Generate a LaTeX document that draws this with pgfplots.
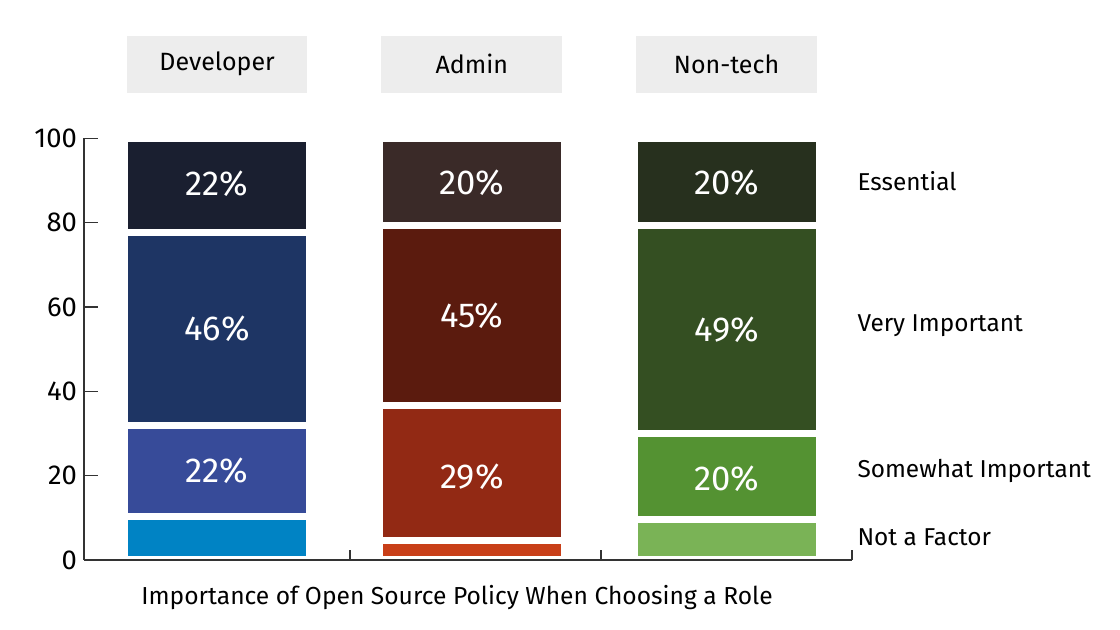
\documentclass[border=0pt]{standalone}
\usepackage{pgfplots}
\pgfplotsset{compat=1.18}
\usepackage{fontspec}
\setmainfont{Fira Sans}
\definecolor{axisgray}{HTML}{333333}
\definecolor{headergray}{HTML}{EDEDED}
\definecolor{devE}{HTML}{1A1F30}
\definecolor{devV}{HTML}{1E3564}
\definecolor{devS}{HTML}{374B99}
\definecolor{devN}{HTML}{0083C4}
\definecolor{admE}{HTML}{3A2A28}
\definecolor{admV}{HTML}{5B1B0E}
\definecolor{admS}{HTML}{922914}
\definecolor{admN}{HTML}{C83F18}
\definecolor{ntE}{HTML}{27301E}
\definecolor{ntV}{HTML}{344F22}
\definecolor{ntS}{HTML}{549232}
\definecolor{ntN}{HTML}{7AB356}
\pgfplotsset{
  segbar/.style={ybar, bar width=0.723, bar shift=0pt, draw=white, line width=3.5pt, fill=#1},
}
\begin{document}
\begin{tikzpicture}
\path[use as bounding box] (-42pt,-35pt) rectangle (518pt,280pt);
\begin{axis}[
  at={(0,0)}, anchor=south west,
  scale only axis, width=384pt, height=210.85pt,
  xmin=0, xmax=3, ymin=0, ymax=100,
  axis x line=bottom, axis y line=left,
  axis line style={-, draw=axisgray, line width=0.75pt},
  axis on top,
  tick align=inside,
  ytick={0,20,40,60,80,100},
  xtick={1.04,2.02,3}, xticklabels={},
  major tick length=7pt,
  xtick style={/pgfplots/major tick length=5pt},
  tick style={draw=axisgray, line width=0.75pt},
  /pgf/number format/assume math mode=true,
  yticklabel style={font=\fontsize{13.7}{16}\selectfont, text=black},
  clip=false,
]
% cumulative heights: drawn from the top segment down
\addplot[segbar=devE] coordinates {(0.52,100)};
\addplot[segbar=devV] coordinates {(0.52,77.6)};
\addplot[segbar=devS] coordinates {(0.52,32.0)};
\addplot[segbar=devN] coordinates {(0.52,10.2)};
\addplot[segbar=admE] coordinates {(1.515,100)};
\addplot[segbar=admV] coordinates {(1.515,79.3)};
\addplot[segbar=admS] coordinates {(1.515,36.6)};
\addplot[segbar=admN] coordinates {(1.515,4.6)};
\addplot[segbar=ntE] coordinates {(2.51,100)};
\addplot[segbar=ntV] coordinates {(2.51,79.4)};
\addplot[segbar=ntS] coordinates {(2.51,30.0)};
\addplot[segbar=ntN] coordinates {(2.51,9.7)};
% percentage labels at segment centres
\addplot[draw=none, mark=none, nodes near coords, point meta=explicit symbolic,
  every node near coord/.append style={anchor=center, text=white, font=\fontsize{17.3}{20}\selectfont}]
  table[meta=lab] {
x y lab
0.52 89.2 22\%
0.52 54.8 46\%
0.52 21.1 22\%
1.515 89.4 20\%
1.515 57.9 45\%
1.515 19.7 29\%
2.51 89.4 20\%
2.51 54.6 49\%
2.51 19.3 20\%
};
% facet headers
\fill[headergray] (axis cs:0.168,110.8) rectangle (axis cs:0.871,124.3);
\fill[headergray] (axis cs:1.160,110.8) rectangle (axis cs:1.867,124.3);
\fill[headergray] (axis cs:2.156,110.8) rectangle (axis cs:2.863,124.3);
\node[font=\fontsize{12.5}{15}\selectfont] at (axis cs:0.52,117.6) {Developer};
\node[font=\fontsize{12.5}{15}\selectfont] at (axis cs:1.515,117.6) {Admin};
\node[font=\fontsize{12.5}{15}\selectfont] at (axis cs:2.51,117.6) {Non-tech};
% category labels on the right
\node[anchor=west, inner sep=0pt, font=\fontsize{12.2}{15}\selectfont] at (axis cs:3.02,89.9) {Essential};
\node[anchor=west, inner sep=0pt, font=\fontsize{12.2}{15}\selectfont] at (axis cs:3.02,55.5) {Very Important};
\node[anchor=west, inner sep=0pt, font=\fontsize{12.2}{15}\selectfont] at (axis cs:3.02,21.1) {Somewhat Important};
\node[anchor=west, inner sep=0pt, font=\fontsize{12.2}{15}\selectfont] at (axis cs:3.02,5.5) {Not a Factor};
% x label
\node[font=\fontsize{12.3}{15}\selectfont] at (axis cs:1.457,-9.0) {Importance of Open Source Policy When Choosing a Role};
\end{axis}
\end{tikzpicture}
\end{document}
